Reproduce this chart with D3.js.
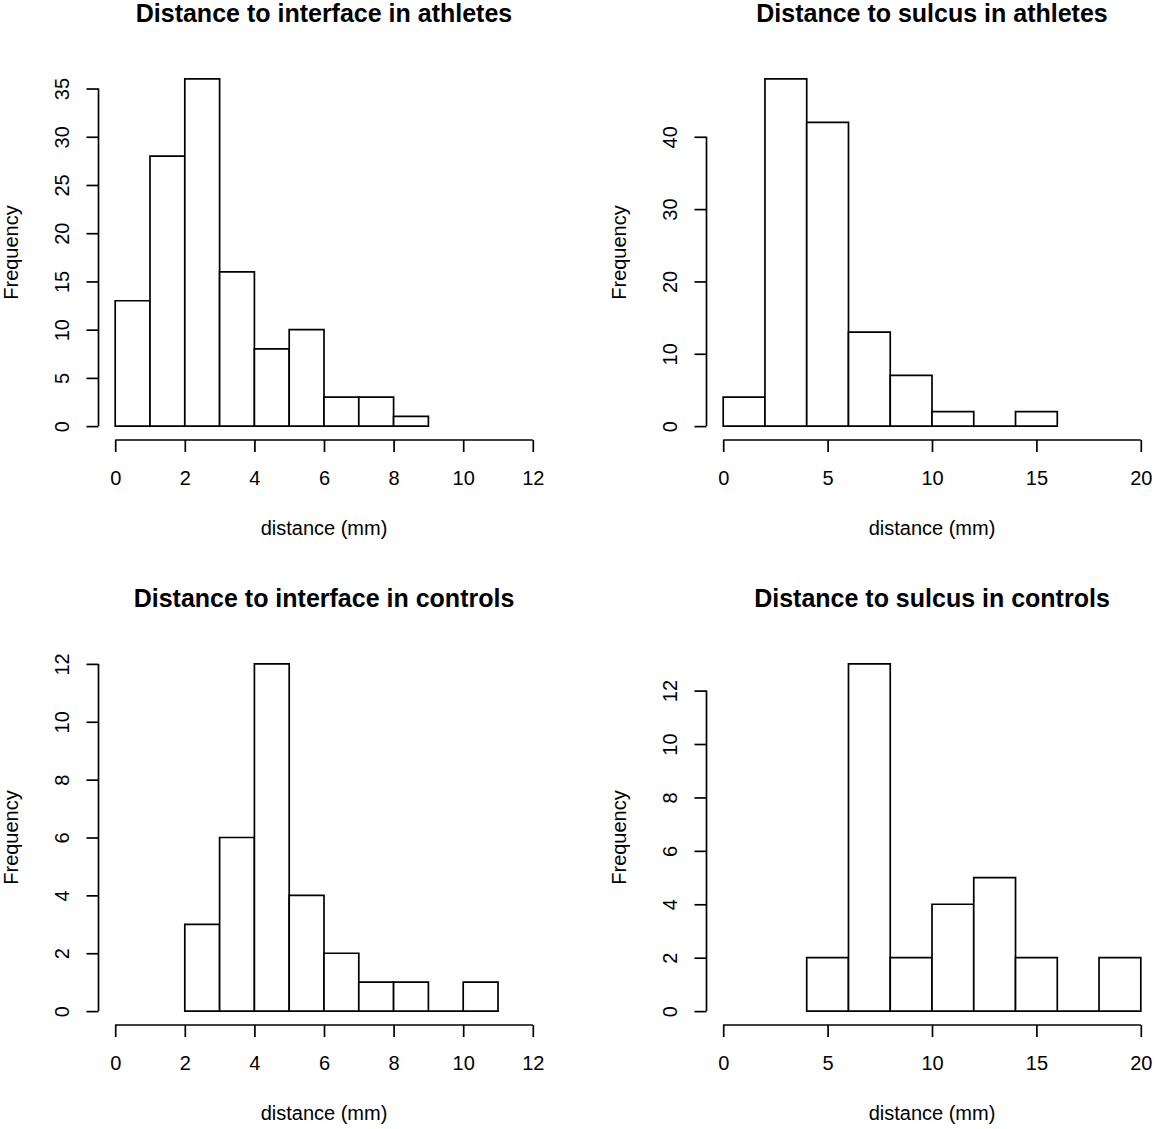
<!DOCTYPE html>
<html>
<head>
<meta charset="utf-8">
<script src="https://cdn.jsdelivr.net/npm/d3@7"></script>
<style>
  html, body { margin: 0; padding: 0; background: #fff; }
  svg { display: block; }
  text { font-family: "Liberation Sans", Arial, Helvetica, sans-serif; fill: #000; }
</style>
</head>
<body>
<svg id="chart" width="1156" height="1129"></svg>
<script>
// ---- data ----
const titles = [
  "Distance to interface in athletes",
  "Distance to sulcus in athletes",
  "Distance to interface in controls",
  "Distance to sulcus in controls"
];
const xLabel = "distance (mm)";
const yLabel = "Frequency";

const breaksInterfaceAthletes = [0, 1, 2, 3, 4, 5, 6, 7, 8, 9];
const countsInterfaceAthletes = [13, 28, 36, 16, 8, 10, 3, 3, 1];

const breaksSulcusAthletes = [0, 2, 4, 6, 8, 10, 12, 14, 16];
const countsSulcusAthletes = [4, 48, 42, 13, 7, 2, 0, 2];

const breaksInterfaceControls = [2, 3, 4, 5, 6, 7, 8, 9, 10, 11];
const countsInterfaceControls = [3, 6, 12, 4, 2, 1, 1, 0, 1];

const breaksSulcusControls = [4, 6, 8, 10, 12, 14, 16, 18, 20];
const countsSulcusControls = [2, 13, 2, 4, 5, 2, 0, 2];

const xTicksInterface = [0, 2, 4, 6, 8, 10, 12];
const xTicksSulcus = [0, 5, 10, 15, 20];
const yTicksInterfaceAthletes = [0, 5, 10, 15, 20, 25, 30, 35];
const yTicksSulcusAthletes = [0, 10, 20, 30, 40];
const yTicksInterfaceControls = [0, 2, 4, 6, 8, 10, 12];
const yTicksSulcusControls = [0, 2, 4, 6, 8, 10, 12];

const panels = [
  { title: titles[0], breaks: breaksInterfaceAthletes, counts: countsInterfaceAthletes, xTicks: xTicksInterface, yTicks: yTicksInterfaceAthletes, xMax: 12, col: 0, row: 0 },
  { title: titles[1], breaks: breaksSulcusAthletes, counts: countsSulcusAthletes, xTicks: xTicksSulcus, yTicks: yTicksSulcusAthletes, xMax: 20, col: 1, row: 0 },
  { title: titles[2], breaks: breaksInterfaceControls, counts: countsInterfaceControls, xTicks: xTicksInterface, yTicks: yTicksInterfaceControls, xMax: 12, col: 0, row: 1 },
  { title: titles[3], breaks: breaksSulcusControls, counts: countsSulcusControls, xTicks: xTicksSulcus, yTicks: yTicksSulcusControls, xMax: 20, col: 1, row: 1 }
];

// ---- layout ----
const svg = d3.select("#chart");
const plotW = 451, plotH = 375;
const lefts = [98.5, 706.5];
const bottoms = [440, 1025];
const LW = 1.7;
const tickFont = 20, labFont = 20, titleFont = 25;

panels.forEach(p => {
  const L = lefts[p.col], B = bottoms[p.row], T = B - plotH, R = L + plotW;
  const yMax = d3.max(p.counts);
  const x = d3.scaleLinear().domain([-0.04 * p.xMax, p.xMax * 1.04]).range([L, R]);
  const y = d3.scaleLinear().domain([-0.04 * yMax, yMax * 1.04]).range([B, T]);
  const g = svg.append("g");

  // bars
  const bins = p.counts.map((c, i) => ({ x0: p.breaks[i], x1: p.breaks[i + 1], c }));
  g.selectAll("path.bar").data(bins).join("path")
    .attr("class", "bar")
    .attr("d", d => `M${x(d.x0)},${y(0)}V${y(d.c)}H${x(d.x1)}V${y(0)}Z`)
    .attr("fill", "#fff").attr("stroke", "#000").attr("stroke-width", LW)
    .attr("stroke-linejoin", "miter");

  // x axis (R style)
  const xa = g.append("g").attr("transform", `translate(0,${B})`)
    .call(d3.axisBottom(x).tickValues(p.xTicks).tickSize(12).tickSizeOuter(0).tickPadding(19).tickFormat(d3.format("d")));
  xa.select(".domain").attr("d", `M${x(p.xTicks[0])},0H${x(p.xTicks[p.xTicks.length - 1])}`)
    .attr("stroke", "#000").attr("stroke-width", LW);
  xa.selectAll(".tick line").attr("stroke", "#000").attr("stroke-width", LW);
  xa.selectAll(".tick text").attr("font-size", tickFont).attr("fill", "#000")
    .attr("font-family", "Liberation Sans, Arial, sans-serif");

  // y axis (R style, rotated labels)
  const ya = g.append("g").attr("transform", `translate(${L},0)`)
    .call(d3.axisLeft(y).tickValues(p.yTicks).tickSize(12).tickSizeOuter(0).tickFormat(d3.format("d")));
  ya.select(".domain").attr("d", `M0,${y(p.yTicks[0])}V${y(p.yTicks[p.yTicks.length - 1])}`)
    .attr("stroke", "#000").attr("stroke-width", LW);
  ya.selectAll(".tick line").attr("stroke", "#000").attr("stroke-width", LW);
  ya.selectAll(".tick text")
    .attr("font-size", tickFont).attr("fill", "#000")
    .attr("font-family", "Liberation Sans, Arial, sans-serif")
    .attr("x", null).attr("dy", null)
    .attr("text-anchor", "middle")
    .attr("transform", "translate(-30,0) rotate(-90)");

  // labels
  const cx = (L + R) / 2;
  g.append("text").attr("x", cx).attr("y", B + 95)
    .attr("text-anchor", "middle").attr("font-size", labFont).text(xLabel);
  g.append("text")
    .attr("transform", `translate(${L - 80.5},${(T + B) / 2}) rotate(-90)`)
    .attr("text-anchor", "middle").attr("font-size", labFont).text(yLabel);
  g.append("text").attr("x", cx).attr("y", B - 418)
    .attr("text-anchor", "middle").attr("font-size", titleFont).attr("font-weight", "bold").text(p.title);
});
</script>
</body>
</html>
